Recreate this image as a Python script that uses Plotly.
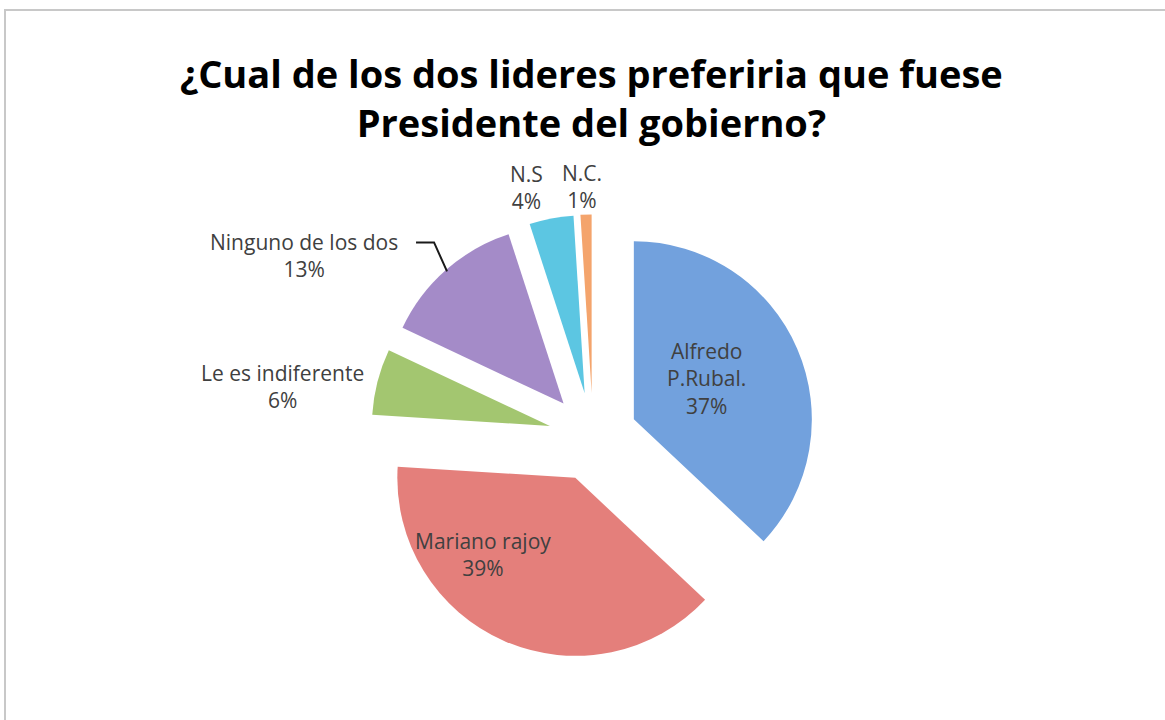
import math
import plotly.graph_objects as go

# Survey answers, clockwise from 12 o'clock
labels = ["Alfredo P.Rubal.", "Mariano rajoy", "Le es indiferente",
          "Ninguno de los dos", "N.S", "N.C."]
display_labels = ["Alfredo<br>P.Rubal.", "Mariano rajoy", "Le es indiferente",
                  "Ninguno de los dos", "N.S", "N.C."]
values = [37, 39, 6, 13, 4, 1]
colors = ["#72a1dd", "#e47f7b", "#a3c670", "#a48bc8", "#5cc6e2", "#f4a46c"]

# label placement: (distance from slice tip as a fraction of radius, angle tweak in degrees)
label_place = [(0.47, -6), (0.675, 27), (1.52, -6), (1.68, -19), (1.2, -5), (1.16, -1)]

W, H = 1165, 720
PULL = 0.25
# pie box in pixels (square), centred on (CX, CY)
CX, CY, BOX = 593, 437, 445
R = BOX / 2 / (1 + PULL)

FONT = "Open Sans, Lato, sans-serif"
LABEL_COLOR = "#404040"


def px_to_paper(x, y):
    return x / W, 1 - y / H


def direction(deg):
    # clockwise from 12 o'clock, screen coordinates (y grows downward)
    a = math.radians(deg)
    return math.sin(a), -math.cos(a)


total = sum(values)
annotations = []
shapes = []
start = 0.0
for i, v in enumerate(values):
    span = 360.0 * v / total
    mid = start + span / 2
    dx, dy = direction(mid)
    tip_x, tip_y = CX + PULL * R * dx, CY + PULL * R * dy
    frac, tweak = label_place[i]
    lx, ly = direction(mid + tweak)
    tx, ty = tip_x + frac * R * lx, tip_y + frac * R * ly
    pct = round(100 * v / total)
    ax_, ay_ = px_to_paper(tx, ty)
    annotations.append(dict(
        text=f"{display_labels[i]}<br>{pct}%", x=ax_, y=ay_,
        xref="paper", yref="paper", xanchor="center", yanchor="middle",
        showarrow=False, align="center",
        font=dict(family=FONT, size=21, color=LABEL_COLOR),
    ))
    if labels[i] == "Ninguno de los dos":
        # elbow leader line from the label to the slice edge
        hx, hy = tip_x + 0.99 * R * dx, tip_y + 0.99 * R * dy
        ex, ey = hx - 13, hy - 29
        sx, sy = ex - 18, ey
        p = [px_to_paper(*pt) for pt in [(sx, sy), (ex, ey), (hx, hy)]]
        shapes.append(dict(
            type="path", xref="paper", yref="paper",
            path=f"M {p[0][0]} {p[0][1]} L {p[1][0]} {p[1][1]} L {p[2][0]} {p[2][1]}",
            line=dict(color="#1a1a1a", width=2),
        ))
    start += span

x0, y1 = px_to_paper(CX - BOX / 2, CY - BOX / 2)
x1, y0 = px_to_paper(CX + BOX / 2, CY + BOX / 2)

fig = go.Figure(go.Pie(
    labels=labels,
    values=values,
    textinfo="none",
    sort=False,
    direction="clockwise",
    rotation=0,
    pull=[PULL] * len(values),
    marker=dict(colors=colors, line=dict(width=0)),
    showlegend=False,
    hoverinfo="label+percent",
    domain=dict(x=[x0, x1], y=[y0, y1]),
    automargin=False,
))

annotations.append(dict(
    text="<b>¿Cual de los dos lideres preferiria que fuese<br>Presidente del gobierno?</b>",
    x=0.508, y=1 - 98 / H, xref="paper", yref="paper",
    xanchor="center", yanchor="middle", showarrow=False,
    font=dict(family=FONT, size=38, color="#000000"),
))

shapes.append(dict(
    type="rect", xref="paper", yref="paper",
    x0=5 / W, x1=1.01, y0=-0.01, y1=1 - 10 / H,
    line=dict(color="#c8c8c8", width=2), fillcolor="rgba(0,0,0,0)",
))

fig.update_layout(
    width=W, height=H,
    margin=dict(l=0, r=0, t=0, b=0),
    paper_bgcolor="white",
    plot_bgcolor="white",
    annotations=annotations,
    shapes=shapes,
)

fig.write_html("out.html")
